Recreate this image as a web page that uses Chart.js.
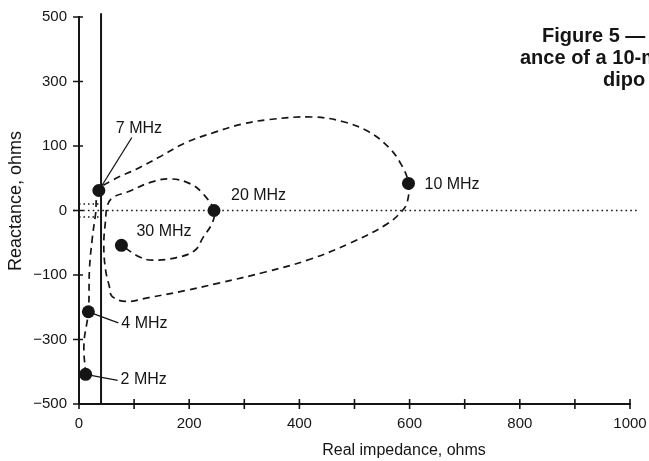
<!DOCTYPE html>
<html>
<head>
<meta charset="utf-8">
<script src="https://cdn.jsdelivr.net/npm/chart.js@4.4.1/dist/chart.umd.min.js"></script>
<style>
  html, body { margin: 0; padding: 0; background: #fff; }
</style>
</head>
<body>
<canvas id="impedance-chart" width="649" height="461"></canvas>
<script>
// marked frequencies on the sweep
const freqLabels = ['2 MHz', '4 MHz', '7 MHz', '10 MHz', '20 MHz', '30 MHz'];
const freqR = [12, 17, 36, 598, 245, 77];
const freqX = [-408, -214, 31, 42, 0, -54];

// feed-point impedance traced from 2 to 30 MHz (ohms)
const pathR = [12, 9, 17, 19, 24, 30, 36,
  63, 104, 144, 192, 247, 296, 345, 423, 478, 526, 562, 585, 598,
  596, 587, 559, 491, 418, 340, 254, 194, 127, 85, 60, 55, 48, 45, 48, 52,
  63, 89, 131, 167, 203, 226, 245,
  242, 225, 210, 177, 133, 110, 77];
const pathX = [-408, -313, -214, -91, -44, -6, 31,
  48, 64, 82, 109, 143, 168, 182, 190, 176, 144, 98, 71, 42,
  14, 0, -21, -51, -76, -95, -125, -148, -170, -182, -166, -135, -91, -52, -17, 9,
  21, 29, 44, 49, 41, 25, 0,
  -19, -42, -62, -73, -77, -72, -54];

const yTicks = [-500, -300, -100, 0, 100, 300, 500];
const yTickLabels = ['−500', '−300', '−100', '0', '100', '300', '500'];
const xTickLabels = ['0', '200', '400', '600', '800', '1000'];

const refR = 40;           // resistance reference line
const guideX = [10, -10];  // short dotted marks either side of zero

const ink = '#151515';
const sans = "'Liberation Sans', Arial, Helvetica, sans-serif";
Chart.defaults.font.family = sans;
Chart.defaults.color = ink;

// reactance axis: linear out to +/-100, half as steep beyond that
function squash(v) {
  const a = Math.abs(v);
  return a <= 100 ? v / 100 : Math.sign(v) * (1 + (a - 100) / 200);
}
function unsquash(t) {
  const a = Math.abs(t);
  return a <= 1 ? t * 100 : Math.sign(t) * (100 + (a - 1) * 200);
}

class ReactanceScale extends Chart.LinearScale {
  buildTicks() {
    return yTicks.map(v => ({ value: v }));
  }
  getPixelForValue(v) {
    const lo = squash(this.min), hi = squash(this.max);
    return this.getPixelForDecimal((squash(v) - lo) / (hi - lo));
  }
  getValueForPixel(p) {
    const lo = squash(this.min), hi = squash(this.max);
    return unsquash(lo + this.getDecimalForPixel(p) * (hi - lo));
  }
}
ReactanceScale.id = 'reactance';
ReactanceScale.defaults = Chart.LinearScale.defaults;
Chart.register(ReactanceScale);

// fixed axis boxes so the plot area lands where the layout padding says
function fixBox(size) {
  return s => {
    if (s.isHorizontal()) s.height = size; else s.width = size;
    s.paddingLeft = s.paddingRight = s.paddingTop = s.paddingBottom = 0;
  };
}

// where each frequency label sits relative to its dot
const labelOffsets = [
  { dx: 35, dy: 5, lead: [32, 6] },
  { dx: 33, dy: 12, lead: [30, 11] },
  { dx: 17, dy: -62, lead: [33, -53] },
  { dx: 16, dy: 1 },
  { dx: 17, dy: -15 },
  { dx: 15, dy: -14 }
];

const figureNotes = {
  id: 'figureNotes',
  afterDraw(chart) {
    const { ctx, chartArea: area, scales: { x, y } } = chart;
    ctx.save();
    ctx.strokeStyle = ink;
    ctx.fillStyle = ink;

    // tick marks crossing both axes
    ctx.lineWidth = 1.6;
    ctx.beginPath();
    x.ticks.forEach(t => {
      const px = x.getPixelForValue(t.value);
      ctx.moveTo(px, area.bottom - 5);
      ctx.lineTo(px, area.bottom + 5);
    });
    y.ticks.forEach(t => {
      const py = y.getPixelForValue(t.value);
      ctx.moveTo(area.left - 6, py);
      ctx.lineTo(area.left + 4, py);
    });
    ctx.stroke();

    // frequency labels with leaders
    ctx.font = '16px ' + sans;
    ctx.textBaseline = 'middle';
    ctx.textAlign = 'left';
    ctx.lineWidth = 1.3;
    freqLabels.forEach((txt, i) => {
      const px = x.getPixelForValue(freqR[i]);
      const py = y.getPixelForValue(freqX[i]);
      const o = labelOffsets[i];
      if (o.lead) {
        ctx.beginPath();
        ctx.moveTo(px, py);
        ctx.lineTo(px + o.lead[0], py + o.lead[1]);
        ctx.stroke();
      }
      ctx.fillText(txt, px + o.dx, py + o.dy);
    });

    // axis titles
    ctx.textAlign = 'center';
    ctx.fillText('Real impedance, ohms', 404, 451);
    ctx.save();
    ctx.translate(16, 201);
    ctx.rotate(-Math.PI / 2);
    ctx.font = '18px ' + sans;
    ctx.fillText('Reactance, ohms', 0, 0);
    ctx.restore();

    // caption, running off the page edge
    ctx.font = 'bold 20px ' + sans;
    ctx.textAlign = 'left';
    ctx.textBaseline = 'alphabetic';
    ctx.fillText('Figure 5 —', 542, 42);
    ctx.fillText('ance of a 10-m', 520, 64);
    ctx.beginPath();
    ctx.rect(0, 0, 645, chart.height);
    ctx.clip();
    ctx.fillText('dipole', 603, 86);
    ctx.restore();
  }
};

const pts = (xs, ys) => xs.map((v, i) => ({ x: v, y: ys[i] }));

new Chart(document.getElementById('impedance-chart'), {
  type: 'scatter',
  data: {
    datasets: [
      {
        label: 'Marked frequencies',
        data: pts(freqR, freqX),
        pointRadius: 6.5,
        pointBackgroundColor: ink,
        pointBorderWidth: 0,
        showLine: false
      },
      {
        label: 'Impedance',
        data: pts(pathR, pathX),
        showLine: true,
        borderColor: ink,
        borderWidth: 1.7,
        borderDash: [7, 5],
        tension: 0.4,
        pointRadius: 0,
        clip: false
      },
      {
        label: 'Reference',
        data: [{ x: refR, y: -500 }, { x: refR, y: 512 }],
        showLine: true,
        borderColor: ink,
        borderWidth: 2,
        pointRadius: 0,
        clip: false
      },
      ...guideX.map(g => ({
        label: 'Guide',
        data: [{ x: 0, y: g }, { x: refR, y: g }],
        showLine: true,
        borderColor: ink,
        borderWidth: 1.5,
        borderDash: [1.5, 3],
        pointRadius: 0,
        clip: false
      })),
      {
        label: 'Zero reactance',
        data: [{ x: -10, y: 0 }, { x: 1012, y: 0 }],
        showLine: true,
        borderColor: ink,
        borderWidth: 1.6,
        borderDash: [1.6, 3.2],
        pointRadius: 0,
        clip: false
      }
    ]
  },
  options: {
    responsive: false,
    animation: false,
    events: [],
    layout: { padding: { top: 17, right: 19, left: 0, bottom: 0 } },
    plugins: {
      legend: { display: false },
      tooltip: { enabled: false }
    },
    scales: {
      x: {
        type: 'linear',
        min: 0,
        max: 1000,
        afterFit: fixBox(57),
        grid: { display: false, drawTicks: false },
        border: { display: true, color: ink, width: 2 },
        ticks: {
          stepSize: 100,
          autoSkip: false,
          maxRotation: 0,
          padding: 11,
          font: { size: 15 },
          callback: v => xTickLabels.includes(String(v)) ? String(v) : ''
        }
      },
      y: {
        type: 'reactance',
        min: -500,
        max: 500,
        afterFit: fixBox(79),
        grid: { display: false, drawTicks: false },
        border: { display: true, color: ink, width: 2 },
        ticks: {
          padding: 12,
          font: { size: 15 },
          callback: (v, i) => yTickLabels[i]
        }
      }
    }
  },
  plugins: [figureNotes]
});
</script>
</body>
</html>
